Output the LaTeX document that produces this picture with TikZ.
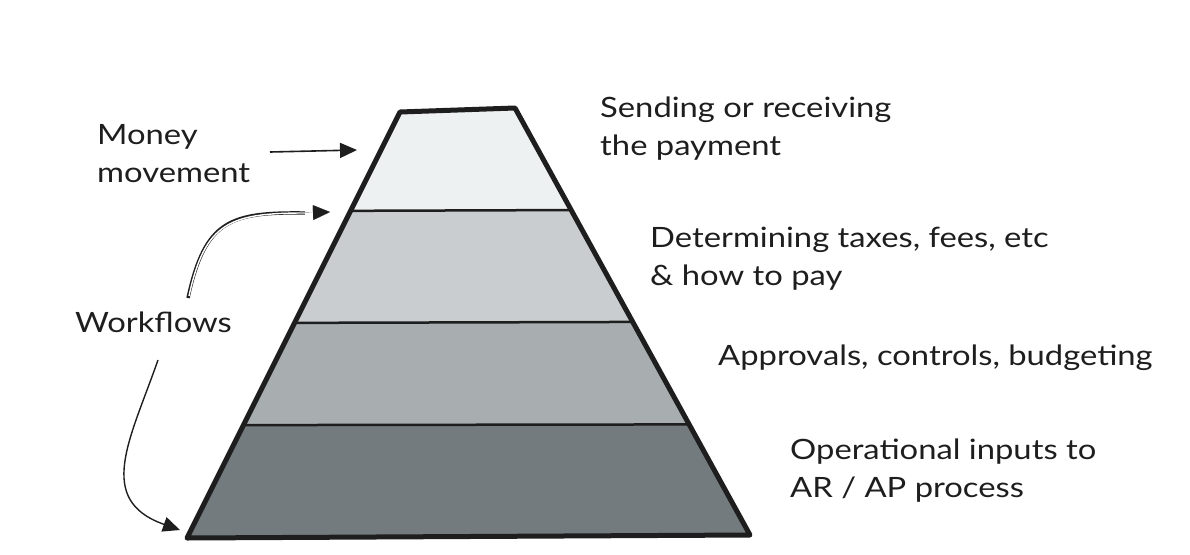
\documentclass[tikz,border=0pt]{standalone}
\usepackage{fontspec}
\setmainfont[FakeStretch=1.17]{Lato}
\usetikzlibrary{arrows.meta,calc}
\definecolor{bandA}{HTML}{EEF1F2}
\definecolor{bandB}{HTML}{C9CDD0}
\definecolor{bandC}{HTML}{A8ADB0}
\definecolor{bandD}{HTML}{737B7F}
\definecolor{ink}{HTML}{1E1E1E}
\tikzset{
  lbl/.style={anchor=base west, inner sep=0pt, align=left, text=ink,
    font=\fontsize{28}{38}\selectfont},
  arr/.style={draw=ink, line width=1.6pt, -{Triangle[length=17pt,width=15pt]}},
  band/.style={line width=2.5pt, draw=ink, line join=round},
}
\begin{document}
\begin{tikzpicture}[x=1pt,y=-1pt]
\useasboundingbox (0,0) rectangle (1190,554);
\coordinate (TL) at (400,112);
\coordinate (TR) at (515,108);
\coordinate (BL) at (187,538);
\coordinate (BR) at (750,535);
\coordinate (L1) at ($(TL)!0.232!(BL)$);
\coordinate (R1) at ($(TR)!0.239!(BR)$);
\coordinate (L2) at ($(TL)!0.495!(BL)$);
\coordinate (R2) at ($(TR)!0.501!(BR)$);
\coordinate (L3) at ($(TL)!0.735!(BL)$);
\coordinate (R3) at ($(TR)!0.741!(BR)$);
% bands
\fill[bandA] (TL) -- (TR) -- (R1) -- (L1) -- cycle;
\fill[bandB] (L1) -- (R1) -- (R2) -- (L2) -- cycle;
\fill[bandC] (L2) -- (R2) -- (R3) -- (L3) -- cycle;
\fill[bandD] (L3) -- (R3) -- (BR) -- (BL) -- cycle;
\draw[band] (L1) -- (R1);
\draw[band] (L2) -- (R2);
\draw[band] (L3) -- (R3);
\draw[line width=5pt, draw=ink, line join=round, line cap=round]
  (BL) -- (TL) -- (TR) -- (BR) -- cycle;
% labels right (anchor = baseline of last line)
\node[lbl] (t1) at (600,155) {Sending or receiving\\the payment};
\node[lbl] (t2) at (650,285) {Determining taxes, fees, etc\\\& how to pay};
\node[lbl] (t3) at (718,365) {Approvals, controls, budgeting};
\node[lbl] (t4) at (790,497) {Operational inputs to\\AR / AP process};
% labels left
\node[lbl] (mm) at (97,182) {Money\\movement};
\node[lbl] (wf) at (75,332) {Workflows};
% arrows
\coordinate (mmS) at (270,152);
\coordinate (mmE) at (357,150);
\draw[arr] (mmS) -- (mmE);
\coordinate (wfA) at (188,298);
\coordinate (wfAE) at (330,212);
\draw[draw=ink, line width=3.4pt] (wfA) .. controls (205,220) and (230,212) .. (305,213);
\draw[draw=white, line width=1.4pt] (189,296) .. controls (205,222) and (230,213) .. (305,213);
\draw[arr, line width=0.1pt] (300,213) -- (wfAE);
\coordinate (wfB) at (158,360);
\coordinate (wfBE) at (180,530);
\draw[arr, line width=1.4pt] (wfB) .. controls (130,440) and (95,500) .. (wfBE);
\end{tikzpicture}
\end{document}
